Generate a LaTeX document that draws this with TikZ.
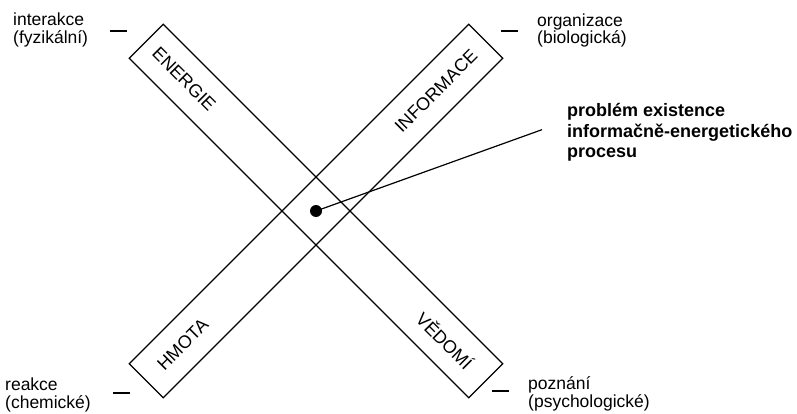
\documentclass[tikz,border=0pt]{standalone}
\usepackage{fontspec}
\setmainfont{Liberation Sans}
\usetikzlibrary{calc}

\tikzset{
  pas/.style={draw, line width=1.2pt, minimum width=480pt, minimum height=48pt, inner sep=0pt},
  napis/.style={font=\fontsize{18}{18}\selectfont, inner sep=0pt},
  popis/.style={font=\fontsize{17.5}{17.5}\selectfont, align=left, anchor=north west, inner sep=0pt},
  carka/.style={line width=1.2pt}
}

\begin{document}
\begin{tikzpicture}[x=1pt,y=1pt]
                \useasboundingbox (0,0) rectangle (797,413);
                \coordinate (stred) at (316,202);
                % the two crossed bands
                \node[pas, rotate=-45] (pasEV) at (stred) {};
                \node[pas, rotate=45] (pasHI) at (stred) {};
                \node[napis, rotate=-45] (energie) at ($(pasEV.west)!54pt!(pasEV.east)$) {ENERGIE};
                \node[napis, rotate=-45] (vedomi) at ($(pasEV.east)!58pt!(pasEV.west)$) {VĚDOMÍ};
                \node[napis, rotate=45] (informace) at ($(pasHI.east)!71pt!(pasHI.west)$) {INFORMACE};
                \node[napis, rotate=45] (hmota) at ($(pasHI.west)!52pt!(pasHI.east)$) {HMOTA};
                % corner labels
                \node[popis] (interakce) at (13,400) {interakce\\(fyzikální)};
                \node[popis] (organizace) at (537,399.5) {organizace\\(biologická)};
                \node[popis] (reakce) at (5,35) {reakce\\(chemické)};
                \node[popis] (poznani) at (528,36.5) {poznání\\(psychologické)};
                \foreach \x/\y in {110/382, 501/382, 113/20, 492/22}{
                \draw[carka] (\x,\y) -- ++(17,0);
                }
                % the point and its description
                \node[circle, fill, minimum size=12pt, inner sep=0pt] (bod) at (stred) {};
                \node[popis, font=\fontsize{18}{20.5}\selectfont\bfseries] (problem) at (567,309.5) {problém existence\\informačně-energetického\\procesu};
                \draw[carka] (bod.center) -- ($(problem.west)+(-25,3)$);
\end{tikzpicture}
\end{document}
